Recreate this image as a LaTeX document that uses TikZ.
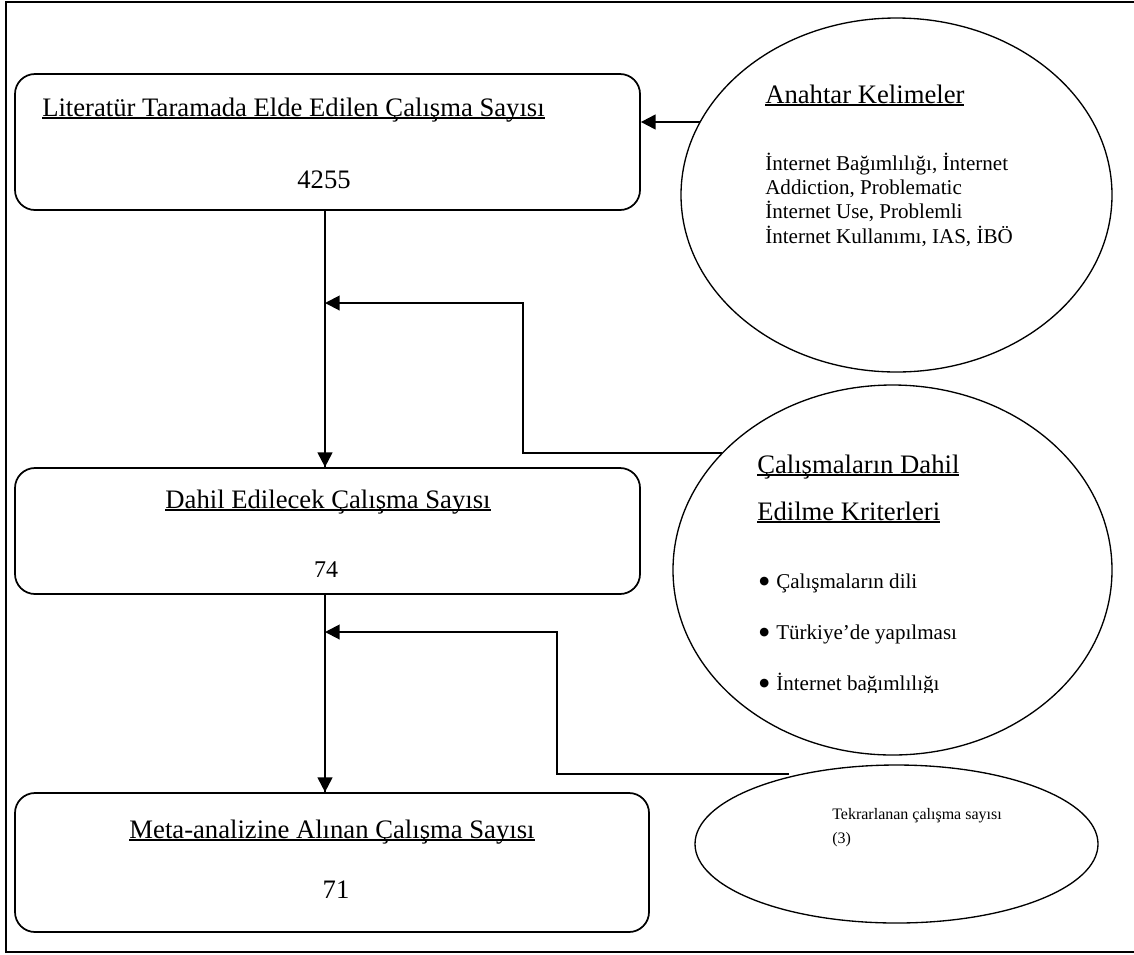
\documentclass[tikz,border=0pt]{standalone}
\usepackage{fontspec}
\setmainfont{Liberation Serif}
\newfontfamily\symfam{DejaVu Sans}
\usetikzlibrary{arrows.meta,shapes.geometric}
\newdimen\pxu \pxu=0.75pt
\newcommand{\ulx}[1]{\setbox0\hbox{#1}\rlap{\rule[-1.9pt]{\wd0}{1pt}}\box0}
\newcommand{\hfont}{\fontsize{20}{24}\selectfont}
\newcommand{\bfontx}{\fontsize{15.8}{18.2}\selectfont}
\newcommand{\sfontx}{\fontsize{12}{14}\selectfont}
\newcommand{\blt}{\makebox[12.75pt][l]{\raisebox{2.6pt}{\symfam\fontsize{8.5}{9}\selectfont ●}}}
\tikzset{
  x=0.75pt, y=-0.75pt,
  stagebox/.style={draw, line width=1.3pt, rounded corners=15pt, inner sep=0pt},
  oval/.style={draw, ellipse, line width=1pt, inner sep=0pt},
  txt/.style={inner sep=0pt, anchor=base west},
  ctxt/.style={inner sep=0pt, anchor=base},
  flow/.style={line width=1.5pt, -{Triangle[length=11pt,width=11pt]}},
}
\begin{document}
\begin{tikzpicture}
\useasboundingbox (0,0) rectangle (1134,954);
\fill[white] (0,0) rectangle (1134,954);
% outer frame
\draw[line width=2pt] (6,2) rectangle (1140,952);

% boxes
\node[stagebox, minimum width=625\pxu, minimum height=136\pxu] (b1) at (327.5,142) {};
\node[stagebox, minimum width=625\pxu, minimum height=126\pxu] (b2) at (327.5,531) {};
\node[stagebox, minimum width=634\pxu, minimum height=139\pxu] (b3) at (332,862.5) {};

% ellipses
\node[oval, minimum width=431\pxu, minimum height=354\pxu] (e1) at (896.5,195) {};
\node[oval, minimum width=439\pxu, minimum height=370\pxu] (e2) at (892.5,570) {};
\node[oval, minimum width=403\pxu, minimum height=158\pxu] (e3) at (896.5,844) {};

% box texts
\node[txt, font=\hfont] (t1) at (42,116) {\ulx{Literatür Taramada Elde Edilen Çalışma Sayısı}};
\node[ctxt, font=\hfont] (n1) at (324,188) {4255};
\node[ctxt, font=\hfont] (t2) at (328,508) {\ulx{Dahil Edilecek Çalışma Sayısı}};
\node[ctxt, font=\fontsize{18}{20}\selectfont] (n2) at (326,577) {74};
\node[ctxt, font=\hfont] (t3) at (332,838) {\ulx{Meta-analizine Alınan Çalışma Sayısı}};
\node[ctxt, font=\hfont] (n3) at (336,898) {71};

% ellipse 1 texts
\node[txt, font=\hfont] (k0) at (765,103) {\ulx{Anahtar Kelimeler}};
\node[txt, font=\bfontx] (k1) at (765,170) {İnternet Bağımlılığı, İnternet};
\node[txt, font=\bfontx] (k2) at (765,194) {Addiction, Problematic};
\node[txt, font=\bfontx] (k3) at (765,218) {İnternet Use, Problemli};
\node[txt, font=\bfontx] (k4) at (765,243) {İnternet Kullanımı, IAS, İBÖ};

% ellipse 2 texts
\node[txt, font=\hfont] (c0) at (757,473) {\ulx{Çalışmaların Dahil}};
\node[txt, font=\hfont] (c1) at (757,520) {\ulx{Edilme Kriterleri}};
\node[txt, font=\bfontx] (c2) at (759,588) {\blt Çalışmaların dili};
\node[txt, font=\bfontx] (c3) at (759,639) {\blt Türkiye’de yapılması};
\begin{scope}
\clip (740,660) rectangle (1000,692);
\node[txt, font=\bfontx] (c4) at (759,690) {\blt İnternet bağımlılığı};
\end{scope}

% ellipse 3 texts
\node[txt, font=\sfontx] (r1) at (832,819) {Tekrarlanan çalışma sayısı};
\node[txt, font=\sfontx] (r2) at (832,843) {(3)};

% connectors
\coordinate (vx) at (325,0);
\coordinate (p1) at (700,122);
\coordinate (p2) at (722,453);
\coordinate (q2) at (523,303);
\coordinate (j2) at (325,303);
\coordinate (p3) at (789,774);
\coordinate (q3) at (557,632);
\coordinate (j3) at (325,632);

\draw[line width=1.5pt] (b1.south -| vx) -- (b2.north -| vx);
\draw[flow] (j2) -- (b2.north -| vx);
\draw[line width=1.5pt] (b2.south -| vx) -- (b3.north -| vx);
\draw[flow] (j3) -- (b3.north -| vx);
\draw[flow] (p1) -- (b1.east |- p1);
\draw[flow] (p2) -| (q2) -- (j2);
\draw[flow] (p3) -| (q3) -- (j3);
\end{tikzpicture}
\end{document}
